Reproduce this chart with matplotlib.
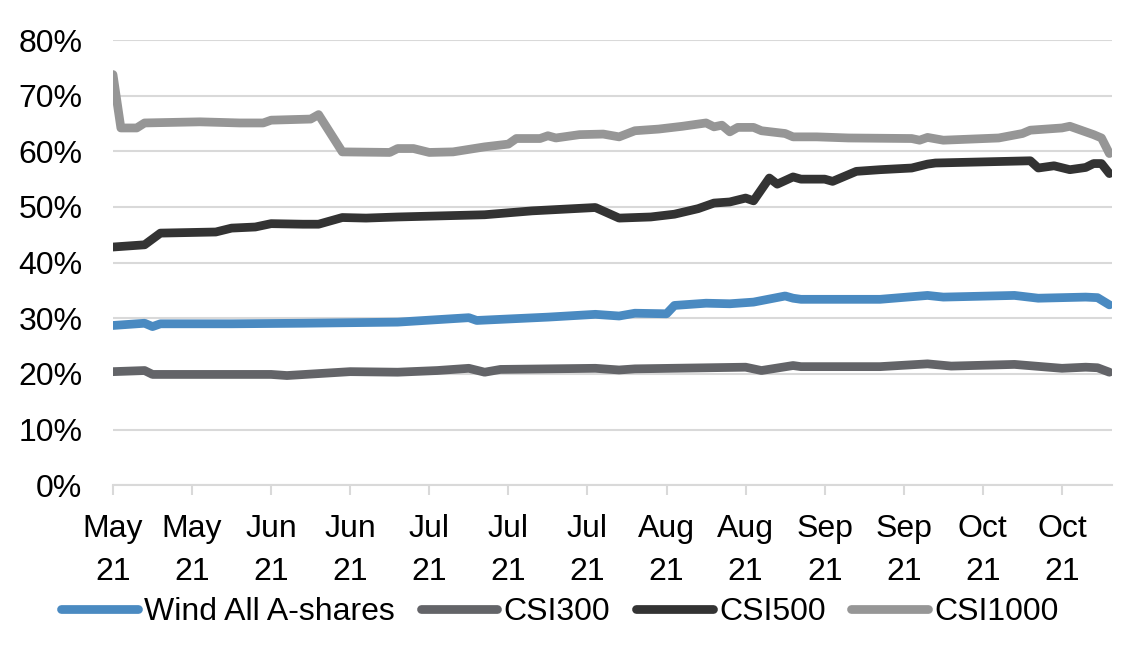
import matplotlib
matplotlib.use("Agg")
import matplotlib.pyplot as plt
from matplotlib.ticker import FuncFormatter

plt.rcParams['font.family'] = ['Liberation Sans', 'DejaVu Sans']

# trading-day index on the x axis, one label every 10 days
tick_pos = [0, 10, 20, 30, 40, 50, 60, 70, 80, 90, 100, 110, 120]
tick_labels = ["May\n21", "May\n21", "Jun\n21", "Jun\n21", "Jul\n21", "Jul\n21", "Jul\n21",
               "Aug\n21", "Aug\n21", "Sep\n21", "Sep\n21", "Oct\n21", "Oct\n21"]

# Wind All A-shares
wind_x = [0, 4, 5, 6, 15, 24, 36, 45, 46, 55, 61, 64, 66, 70, 71, 75, 78, 81, 85, 86,
          87, 97, 103, 105, 114, 117, 123, 124.5, 126]
wind_y = [28.7, 29.1, 28.5, 29.0, 29.0, 29.1, 29.3, 30.1, 29.6, 30.2, 30.7, 30.4, 30.9, 30.8,
          32.3, 32.7, 32.6, 32.9, 34.0, 33.6, 33.4, 33.4, 34.1, 33.8, 34.1, 33.6, 33.8, 33.7, 32.4]

# CSI300
csi300_x = [0, 4, 5, 20, 22, 30, 36, 41, 45, 47, 49, 61, 64, 66, 80, 82, 86, 87, 97, 103,
            106, 114, 120, 123, 124.5, 126]
csi300_y = [20.4, 20.6, 19.9, 19.9, 19.7, 20.4, 20.3, 20.6, 21.0, 20.3, 20.8, 21.0, 20.7,
            20.9, 21.2, 20.6, 21.5, 21.3, 21.3, 21.8, 21.4, 21.7, 21.0, 21.2, 21.1, 20.3]

# CSI500
csi500_x = [0, 4, 6, 13, 15, 18, 20, 24, 26, 29, 32, 36, 47, 53, 61, 64, 68, 71, 74, 76,
            78, 80, 81, 83, 84, 86, 87, 90, 91, 94, 97, 101, 103, 104, 116, 117, 119, 121,
            123, 124, 125, 126]
csi500_y = [42.8, 43.2, 45.3, 45.5, 46.2, 46.4, 47.0, 46.9, 46.9, 48.1, 48.0, 48.2, 48.6,
            49.3, 49.9, 48.0, 48.2, 48.7, 49.7, 50.7, 50.9, 51.6, 51.1, 55.2, 54.1, 55.4,
            55.0, 55.0, 54.6, 56.4, 56.7, 57.0, 57.7, 57.9, 58.3, 57.0, 57.4, 56.7, 57.1,
            57.8, 57.8, 56.0]

# CSI1000
csi1000_x = [0, 1, 3, 4, 11, 16, 19, 20, 25, 26, 29, 35, 36, 38, 40, 43, 47, 50, 51, 54,
             55, 56, 59, 62, 64, 66, 69, 72, 75, 76, 77, 78, 79, 81, 82, 85, 86, 89, 93,
             101, 102, 103, 105, 112, 115, 116, 120, 121, 124, 125, 126]
csi1000_y = [73.8, 64.2, 64.2, 65.1, 65.3, 65.1, 65.1, 65.6, 65.8, 66.6, 59.9, 59.8, 60.5,
             60.5, 59.8, 59.9, 60.8, 61.3, 62.3, 62.3, 62.8, 62.4, 63.0, 63.1, 62.6, 63.7,
             64.0, 64.5, 65.1, 64.4, 64.7, 63.5, 64.3, 64.3, 63.7, 63.2, 62.6, 62.6, 62.4,
             62.3, 62.0, 62.5, 62.0, 62.4, 63.2, 63.8, 64.2, 64.5, 63.0, 62.4, 59.6]

fig = plt.figure(figsize=(11.23, 6.46), dpi=100)
ax = fig.add_axes([0.1006, 0.249, 0.8894, 0.689])

lw = 6.3
ax.plot(wind_x, wind_y, color='#4A8AC1', lw=lw, label='Wind All A-shares', solid_capstyle='round')
ax.plot(csi300_x, csi300_y, color='#636468', lw=lw, label='CSI300', solid_capstyle='round')
ax.plot(csi500_x, csi500_y, color='#333333', lw=lw, label='CSI500', solid_capstyle='round')
ax.plot(csi1000_x, csi1000_y, color='#969696', lw=lw, label='CSI1000', solid_capstyle='round')

ax.set_xlim(0, 126.3)
ax.set_ylim(0, 80)
ax.set_yticks(range(0, 81, 10))
ax.yaxis.set_major_formatter(FuncFormatter(lambda v, p: f"{v:.0f}%"))
ax.set_xticks(tick_pos)
ax.set_xticklabels(tick_labels, linespacing=1.55)

for s in ['top', 'right', 'left']:
    ax.spines[s].set_visible(False)
ax.spines['bottom'].set_color('#D9D9D9')
ax.spines['bottom'].set_linewidth(1.5)
ax.set_axisbelow(True)
ax.grid(axis='y', color='#D9D9D9', lw=1.5)
ax.tick_params(axis='y', length=0, pad=22, labelsize=23)
ax.tick_params(axis='x', length=7, width=1.5, color='#D9D9D9', pad=14, labelsize=23)

fig.legend(loc='center', bbox_to_anchor=(0.4987, 0.053), ncol=4, frameon=False, fontsize=23,
           handlelength=2.4, handletextpad=0.2, columnspacing=0.8)

fig.savefig('out.png', dpi=100)
